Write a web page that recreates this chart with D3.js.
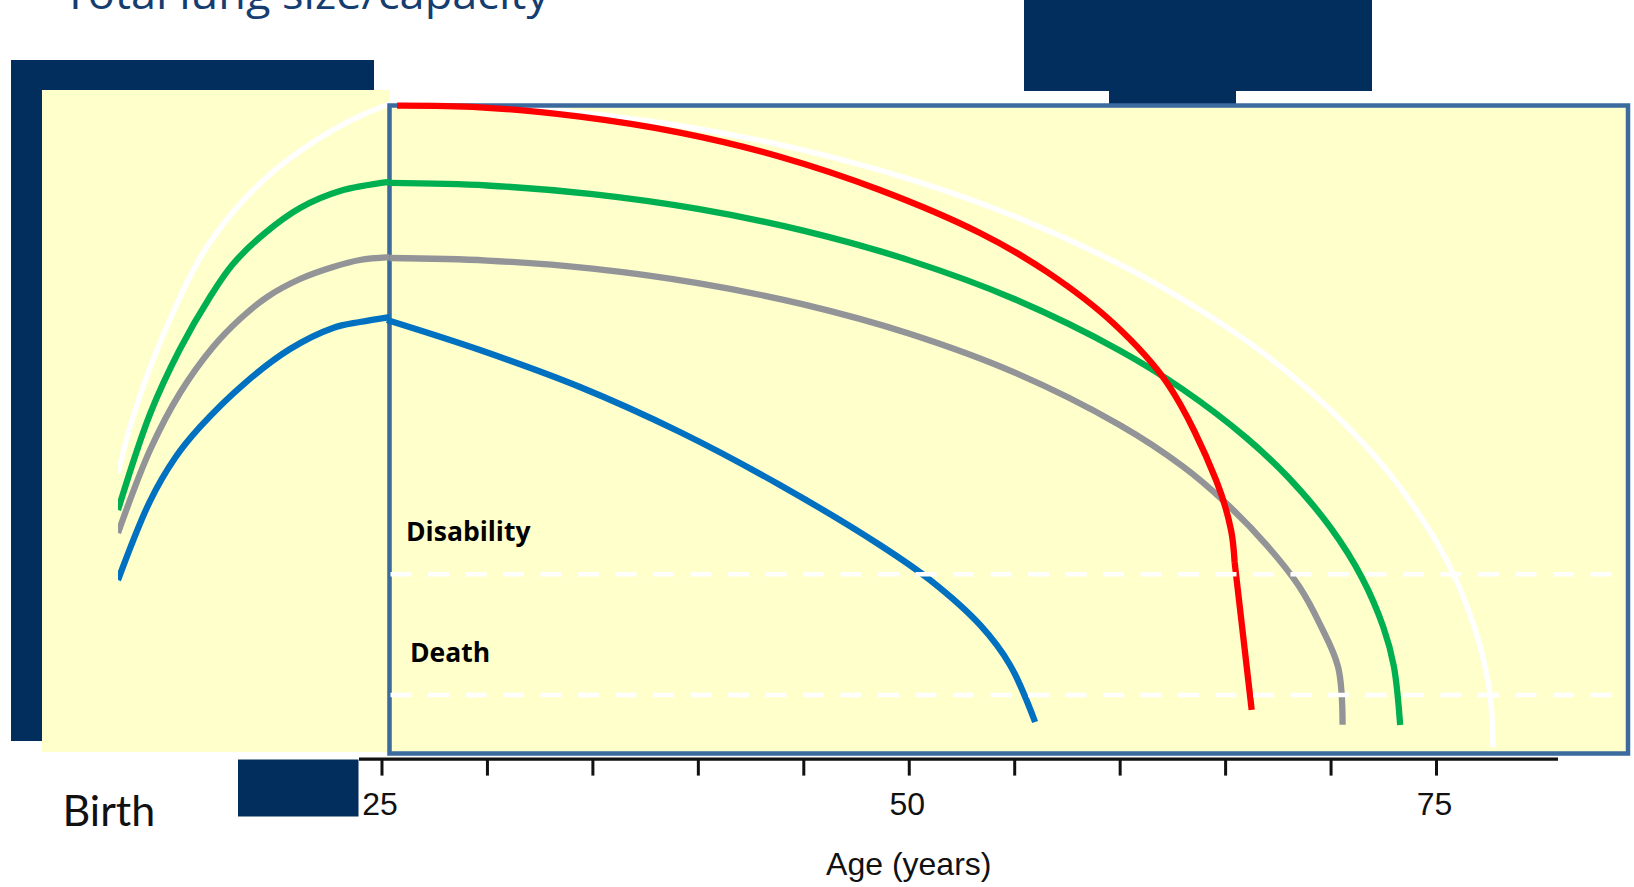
<!DOCTYPE html>
<html><head><meta charset="utf-8">
<script src="https://cdn.jsdelivr.net/npm/d3@7"></script>
<style>html,body{margin:0;padding:0;background:#fff;overflow:hidden}</style>
</head><body><svg id="chart" width="1634" height="887"></svg>
<script>
// ---------------- DATA ----------------
// Early life (birth -> 25 years), [age, lung capacity %]
const whiteEarly = [[0,43.64],[1.38,52.12],[3.59,62.27],[7.55,76.21],[10.59,83.18],[13.72,88.48],[16.76,92.42],[19.8,95.61],[22.28,97.73],[25,99.55]];
const greenEarly = [[0,38.03],[2.95,52.58],[5.71,62.42],[8.47,70.3],[10.59,75.3],[13.54,80.0],[16.76,83.79],[20.44,86.36],[25,87.73]];
const grayEarly  = [[0,34.55],[2.95,47.12],[5.71,55.76],[8.75,62.73],[11.23,66.97],[13.72,70.3],[16.76,73.03],[19.8,74.85],[22.28,75.91],[25,76.36]];
const blueEarly  = [[0,27.42],[2.95,39.39],[5.25,45.91],[7.55,50.61],[11.69,57.27],[15.84,62.42],[19.8,65.61],[22.28,66.52],[25,67.27]];
// Adult life (25 years ->), [age, lung capacity %]
const whiteLate = [[25.38,99.7],[30,99.32],[35,98.03],[40,95.8],[45,92.56],[50,88.2],[55,82.53],[60,75.26],[63,69.92],[66,63.71],[69,56.1],[71,50.0],[73,42.7],[75,33.3],[76,27.09],[77,18.38],[77.5,11.5],[77.64,7.3],[77.7,2.1]];
const greenLate = [[25.38,87.58],[30,87.2],[35,85.89],[40,83.65],[45,80.36],[50,75.89],[55,70.0],[60,62.21],[63,56.29],[66,48.98],[68,42.95],[70,35.35],[71.5,27.7],[72.5,20.3],[73,14.36],[73.3,5.45]];
const grayLate  = [[25.38,76.21],[30,75.83],[35,74.59],[40,72.39],[45,69.18],[50,64.77],[55,58.88],[60,50.91],[63,44.62],[65,39.2],[67,32.6],[68.5,26.5],[69.5,20.7],[70.36,14.2],[70.57,5.5]];
const blueLate  = [[25.26,66.82],[29.67,62.27],[34.41,56.67],[39.15,49.85],[43.89,41.82],[48.63,32.73],[51.01,27.42],[53.38,20.61],[54.8,14.55],[55.99,5.91]];
const redLate   = [[25.74,99.29],[29.67,99.05],[34.41,97.62],[39.15,95.2],[43.89,91.56],[48.63,86.52],[53.38,80.0],[56.56,74.09],[59.69,66.36],[62.25,57.27],[64.57,42.58],[65.28,35.0],[65.45,30.15]];
const redDrop   = [[65.45,30.15],[66.26,7.73]];
// thresholds
const thresholdNames  = ["Disability","Death"];
const thresholdValues = [28.3, 10];
// axis
const tickAges   = [25,30,35,40,45,50,55,60,65,70,75];
const tickLabels = [25,50,75];
const axisDomain = [23.91, 80.76];
const birthDomain = [0, 25];
const titleText = "Total lung size/capacity";
const xTitle = "Age (years)";
const birthLabel = "Birth";

// ---------------- STYLE / LAYOUT ----------------
const NAVY = "#022e5e", YELLOW = "#ffffcc", FRAME = "#3a6a9e";
const svg = d3.select("#chart");

const xAge   = d3.scaleLinear().domain(axisDomain).range([358.5, 1557.5]);
const xBirth = d3.scaleLinear().domain(birthDomain).range([118, 389.5]);
const y      = d3.scaleLinear().domain([0, 100]).range([761, 101]);

// decorative blocks
svg.append("rect").attr("x",11).attr("y",60).attr("width",363).attr("height",681).attr("fill",NAVY);
svg.append("rect").attr("x",1024).attr("y",0).attr("width",348).attr("height",91).attr("fill",NAVY);
svg.append("rect").attr("x",1109).attr("y",90).attr("width",127).attr("height",15).attr("fill",NAVY);
svg.append("rect").attr("x",238).attr("y",759.5).attr("width",120.5).attr("height",57).attr("fill",NAVY);

// title (partly cut off at the top, as in the reference)
svg.append("text").attr("x",63).attr("y",9)
  .attr("font-family","'Open Sans', sans-serif").attr("font-size",42)
  .attr("fill","#163d6f").attr("textLength",486).attr("lengthAdjust","spacingAndGlyphs")
  .text(titleText);

// left (early life) panel
svg.append("rect").attr("x",42).attr("y",90).attr("width",348).attr("height",662).attr("fill",YELLOW);
// main box fill
const box = {x:389.5, y:105.5, w:1238.5, h:648};
svg.append("rect").attr("x",box.x).attr("y",box.y).attr("width",box.w).attr("height",box.h).attr("fill",YELLOW);

svg.append("defs").append("clipPath").attr("id","leftClip")
  .append("rect").attr("x",118).attr("y",80).attr("width",275).attr("height",680);

const curve = d3.curveCatmullRom.alpha(0.5);
const lineBirth = d3.line().x(d=>xBirth(d[0])).y(d=>y(d[1])).curve(curve);
const lineAge   = d3.line().x(d=>xAge(d[0])).y(d=>y(d[1])).curve(curve);
const lineStraight = d3.line().x(d=>xAge(d[0])).y(d=>y(d[1]));

function early(data, color, w){
  svg.append("path").attr("d", lineBirth(data)).attr("fill","none")
    .attr("stroke",color).attr("stroke-width",w).attr("clip-path","url(#leftClip)");
}
function late(data, color, w, gen){
  svg.append("path").attr("d", (gen||lineAge)(data)).attr("fill","none")
    .attr("stroke",color).attr("stroke-width",w).attr("stroke-linejoin","round");
}

// white series (drawn under the frame)
early(whiteEarly, "#ffffff", 5.5);
late(whiteLate, "#ffffff", 5.5);

// frame
svg.append("rect").attr("x",box.x).attr("y",box.y).attr("width",box.w).attr("height",box.h)
  .attr("fill","none").attr("stroke",FRAME).attr("stroke-width",4.5);

early(greenEarly, "#00b050", 6.3);
early(grayEarly,  "#929497", 6.3);
early(blueEarly,  "#0070c0", 6.3);
late(greenLate, "#00b050", 6.3);
late(grayLate,  "#929497", 6.3);
late(blueLate,  "#0070c0", 6.3);
late(redLate,   "#ff0000", 6.3);
late(redDrop,   "#ff0000", 6.3, lineStraight);

// thresholds
thresholdValues.forEach((v,i)=>{
  svg.append("line").attr("x1",box.x+1).attr("x2",box.x+box.w-2)
    .attr("y1",y(v)).attr("y2",y(v))
    .attr("stroke","#ffffff").attr("stroke-width",4.5).attr("stroke-dasharray","21,16.5");
});
svg.append("text").attr("x",406).attr("y",541).attr("font-family","'Open Sans', sans-serif")
  .attr("font-weight",700).attr("font-size",26.5).attr("fill","#000").text(thresholdNames[0]);
svg.append("text").attr("x",410).attr("y",662).attr("font-family","'Open Sans', sans-serif")
  .attr("font-weight",700).attr("font-size",26.5).attr("fill","#000").text(thresholdNames[1]);

// axis
const axis = d3.axisBottom(xAge).tickValues(tickAges).tickSize(17).tickSizeOuter(0)
  .tickFormat(d => tickLabels.includes(d) ? String(d) : "");
const gAxis = svg.append("g").attr("transform","translate(0,758.6)").call(axis);
gAxis.select(".domain").attr("stroke","#111").attr("stroke-width",3.3);
gAxis.selectAll(".tick line").attr("stroke","#111").attr("stroke-width",3);
gAxis.selectAll(".tick text").attr("y",56.4).attr("dy",null).attr("x",-2)
  .attr("font-family","'Liberation Sans', Arial, sans-serif").attr("font-size",32).attr("fill","#111");

svg.append("text").attr("x",xAge(50)).attr("y",875).attr("text-anchor","middle")
  .attr("font-family","'Liberation Sans', Arial, sans-serif").attr("font-size",32).attr("fill","#111")
  .text(xTitle);

svg.append("text").attr("x",62.5).attr("y",826).attr("font-family","Lato, sans-serif")
  .attr("font-size",43).attr("fill","#111").text(birthLabel);
</script></body></html>
